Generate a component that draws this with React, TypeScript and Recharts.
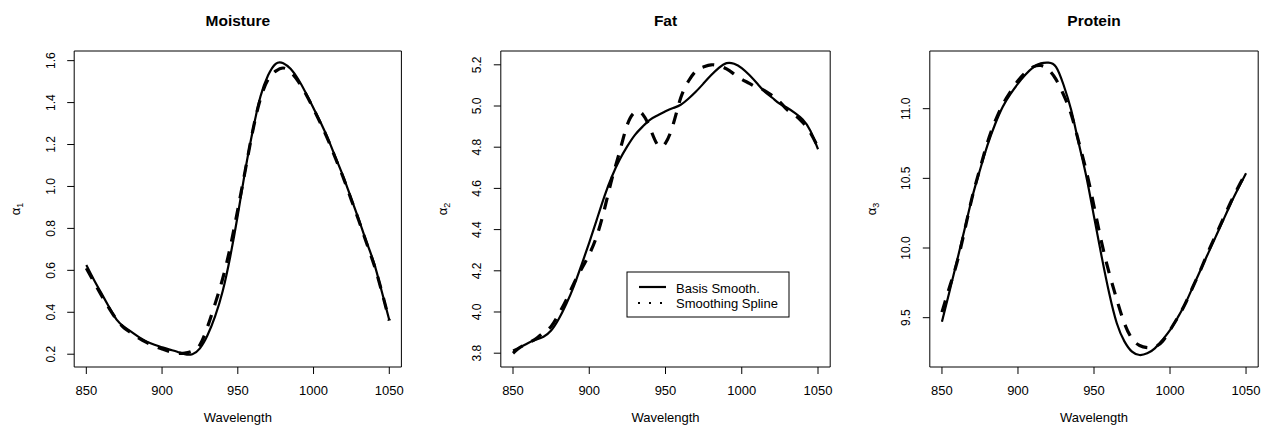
import { LineChart, Line, XAxis, YAxis, ReferenceArea, Customized } from 'recharts'

const wavelength = [
  850, 855, 860, 865, 870, 875, 880, 885, 890, 895, 900, 905, 910, 915, 920, 925, 930, 935, 940, 945,
  950, 955, 960, 965, 970, 975, 980, 985, 990, 995, 1000, 1005, 1010, 1015, 1020, 1025, 1030, 1035,
  1040, 1045, 1050,
]
const xTicks = [850, 900, 950, 1000, 1050]

// Moisture
const moistureBasis = [
  0.625, 0.555, 0.49, 0.425, 0.365, 0.33, 0.305, 0.28, 0.26, 0.245, 0.233, 0.222, 0.212, 0.2, 0.2,
  0.228, 0.29, 0.38, 0.5, 0.665, 0.864, 1.08, 1.27, 1.43, 1.53, 1.585, 1.588, 1.56, 1.51, 1.445,
  1.373, 1.3, 1.22, 1.13, 1.04, 0.94, 0.84, 0.735, 0.633, 0.5, 0.363,
]
const moistureSpline = [
  0.61, 0.545, 0.48, 0.42, 0.365, 0.325, 0.3, 0.275, 0.255, 0.238, 0.225, 0.212, 0.205, 0.205, 0.215,
  0.245, 0.33, 0.44, 0.56, 0.71, 0.89, 1.08, 1.27, 1.42, 1.51, 1.55, 1.565, 1.545, 1.5, 1.44, 1.37,
  1.295, 1.215, 1.125, 1.035, 0.935, 0.835, 0.73, 0.625, 0.5, 0.36,
]
const moistureTicks = [0.2, 0.4, 0.6, 0.8, 1.0, 1.2, 1.4, 1.6]

// Fat
const fatBasis = [
  3.813, 3.83, 3.85, 3.865, 3.88, 3.91, 3.966, 4.04, 4.127, 4.23, 4.337, 4.45, 4.563, 4.66, 4.74,
  4.805, 4.86, 4.9, 4.934, 4.955, 4.974, 4.99, 5.006, 5.035, 5.07, 5.11, 5.15, 5.185, 5.208, 5.205,
  5.184, 5.15, 5.11, 5.07, 5.04, 5.01, 4.99, 4.965, 4.934, 4.88, 4.79,
]
const fatSpline = [
  3.8, 3.83, 3.85, 3.87, 3.9, 3.93, 3.99, 4.06, 4.14, 4.21, 4.28, 4.37, 4.5, 4.65, 4.78, 4.91, 4.97,
  4.96, 4.89, 4.81, 4.82, 4.91, 5.04, 5.12, 5.17, 5.19, 5.2, 5.195, 5.18, 5.155, 5.13, 5.11, 5.09,
  5.075, 5.05, 5.02, 4.98, 4.955, 4.92, 4.87, 4.8,
]
const fatTicks = [3.8, 4.0, 4.2, 4.4, 4.6, 4.8, 5.0, 5.2]

// Protein
const proteinBasis = [
  9.471, 9.69, 9.914, 10.14, 10.368, 10.56, 10.74, 10.89, 11.014, 11.105, 11.18, 11.245, 11.297,
  11.325, 11.33, 11.3, 11.17, 10.99, 10.75, 10.51, 10.225, 9.94, 9.675, 9.46, 9.33, 9.256, 9.232,
  9.244, 9.28, 9.34, 9.41, 9.5, 9.6, 9.72, 9.84, 9.96, 10.08, 10.2, 10.32, 10.43, 10.536,
]
const proteinSpline = [
  9.54, 9.72, 9.9, 10.13, 10.37, 10.57, 10.76, 10.91, 11.03, 11.12, 11.2, 11.26, 11.3, 11.31, 11.28,
  11.21, 11.1, 10.96, 10.76, 10.55, 10.3, 10.04, 9.82, 9.63, 9.46, 9.35, 9.3, 9.285, 9.29, 9.33,
  9.41, 9.5, 9.6, 9.72, 9.84, 9.97, 10.09, 10.21, 10.33, 10.44, 10.54,
]
const proteinTicks = [9.5, 10.0, 10.5, 11.0]

const FONT = '"Liberation Sans", Arial, Helvetica, sans-serif'
const W = 421
const H = 427
const TOP = 51
const BOTTOM = 367
const X_DOMAIN: [number, number] = [842, 1058]

interface PanelProps {
  title: string
  sub: string
  basis: number[]
  spline: number[]
  yTicks: number[]
  yDomain: [number, number]
  left: number
  right: number
  offsetX: number
  legend?: boolean
}

function Panel({ title, sub, basis, spline, yTicks, yDomain, left, right, offsetX, legend }: PanelProps) {
  const data = wavelength.map((w, i) => ({ w, basis: basis[i], spline: spline[i] }))
  const cx = (left + (W - right)) / 2
  const cy = (TOP + BOTTOM) / 2

  const yTick = (p: any) => (
    <text
      transform={`translate(${left - 19.5},${p.y}) rotate(-90)`}
      textAnchor="middle"
      fontSize={12}
      fontFamily={FONT}
      fill="#000"
    >
      {Number(p.payload.value).toFixed(1)}
    </text>
  )
  const xTick = (p: any) => (
    <text x={p.x} y={395} textAnchor="middle" fontSize={13} fontFamily={FONT} fill="#000">
      {p.payload.value}
    </text>
  )

  const overlay = () => (
    <g fontFamily={FONT} fill="#000">
      <text x={cx} y={26} textAnchor="middle" fontSize={15.5} fontWeight="bold">
        {title}
      </text>
      <text x={cx} y={422} textAnchor="middle" fontSize={13}>
        Wavelength
      </text>
      <text transform={`translate(${left - 54},${cy}) rotate(-90)`} textAnchor="middle" fontSize={13}>
        α<tspan fontSize={9} dy={3}>{sub}</tspan>
      </text>
      {legend && (
        <g>
          <rect x={206} y={272} width={162} height={45} fill="#fff" stroke="#000" strokeWidth={1} />
          <line x1={218} x2={245} y1={287} y2={287} stroke="#000" strokeWidth={2.2} />
          <line x1={217} x2={246} y1={303} y2={303} stroke="#000" strokeWidth={2.2} strokeDasharray="2 9" />
          <text x={255} y={292.5} fontSize={13}>
            Basis Smooth.
          </text>
          <text x={255} y={307.5} fontSize={13}>
            Smoothing Spline
          </text>
        </g>
      )}
    </g>
  )

  return (
    <div style={{ position: 'absolute', left: offsetX, top: 0 }}>
      <LineChart
        width={W}
        height={H}
        data={data}
        margin={{ top: TOP, right, bottom: H - BOTTOM - 30, left: left - 40 }}
      >
        <XAxis
          dataKey="w"
          type="number"
          domain={X_DOMAIN}
          ticks={xTicks}
          height={30}
          axisLine={false}
          tickSize={7}
          tickLine={{ stroke: '#000' }}
          tick={xTick}
          allowDataOverflow
        />
        <YAxis
          type="number"
          domain={yDomain}
          ticks={yTicks}
          width={40}
          axisLine={false}
          tickSize={7}
          tickLine={{ stroke: '#000' }}
          tick={yTick}
          allowDataOverflow
        />
        <ReferenceArea
          x1={X_DOMAIN[0]}
          x2={X_DOMAIN[1]}
          y1={yDomain[0]}
          y2={yDomain[1]}
          fill="none"
          stroke="#000"
          strokeWidth={1}
          fillOpacity={0}
        />
        <Line
          dataKey="basis"
          type="natural"
          stroke="#000"
          strokeWidth={2.2}
          dot={false}
          isAnimationActive={false}
        />
        <Line
          dataKey="spline"
          type="natural"
          stroke="#000"
          strokeWidth={3.2}
          strokeDasharray="12 10"
          dot={false}
          isAnimationActive={false}
        />
        <Customized component={overlay} />
      </LineChart>
    </div>
  )
}

export default function App() {
  return (
    <div style={{ position: 'absolute', left: 0, top: 0, width: 1263, height: 427, background: '#fff' }}>
      <Panel
        title="Moisture"
        sub="1"
        basis={moistureBasis}
        spline={moistureSpline}
        yTicks={moistureTicks}
        yDomain={[0.139, 1.646]}
        left={74.2}
        right={19.6}
        offsetX={0}
      />
      <Panel
        title="Fat"
        sub="2"
        basis={fatBasis}
        spline={fatSpline}
        yTicks={fatTicks}
        yDomain={[3.733, 5.267]}
        left={79.8}
        right={11.8}
        offsetX={421}
        legend
      />
      <Panel
        title="Protein"
        sub="3"
        basis={proteinBasis}
        spline={proteinSpline}
        yTicks={proteinTicks}
        yDomain={[9.146, 11.414]}
        left={87.8}
        right={4.8}
        offsetX={842}
      />
    </div>
  )
}
